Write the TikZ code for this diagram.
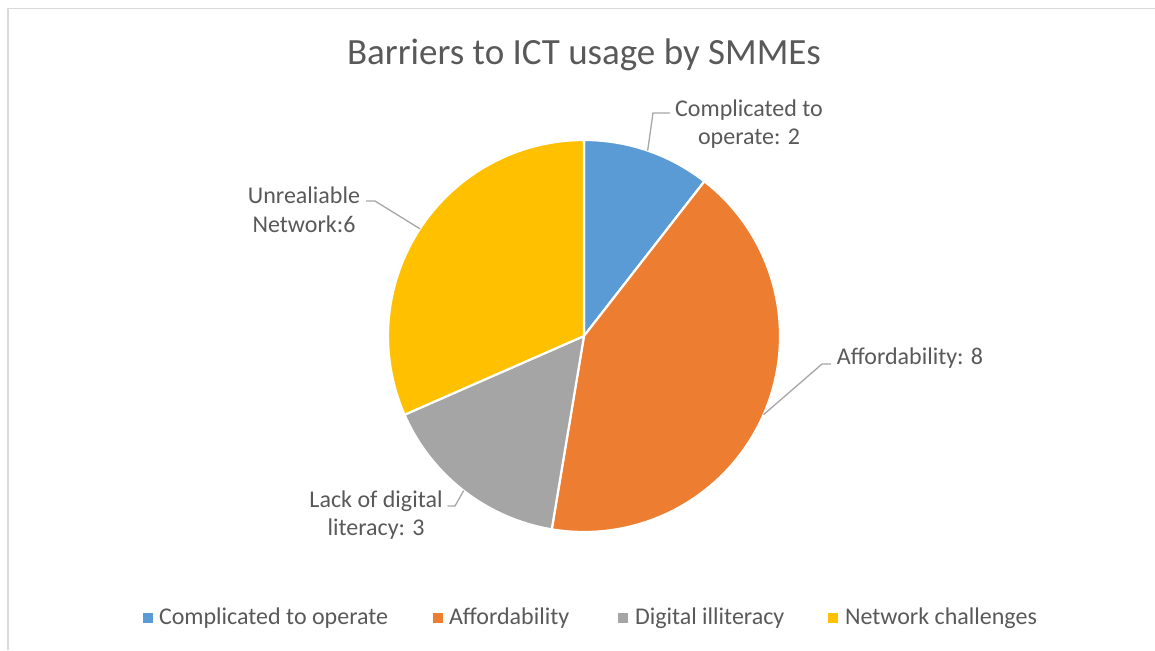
\documentclass[tikz,border=0pt]{standalone}
\usepackage{fontspec}
\setmainfont{Carlito}
\usetikzlibrary{positioning,calc}
\definecolor{cblue}{HTML}{5B9BD5}
\definecolor{corange}{HTML}{ED7D31}
\definecolor{cgrey}{HTML}{A5A5A5}
\definecolor{cyellow}{HTML}{FFC000}
\definecolor{ctext}{HTML}{595959}
\definecolor{cleader}{HTML}{A6A6A6}
\definecolor{cframe}{HTML}{D9D9D9}

\begin{document}
\begin{tikzpicture}
[x=1pt,y=1pt,
 every node/.style={inner sep=0pt,outer sep=0pt,text=ctext},
 slice/.style={draw=white,line width=2.2pt,line join=round},
 lbl/.style={align=center,font=\fontsize{24}{28.5}\selectfont},
 leader/.style={draw=cleader,line width=1.3pt},
 lgbox/.style={minimum size=10pt,draw=none},
 lgtxt/.style={font=\fontsize{24}{28}\selectfont,text height=17pt,text depth=5pt}]
\useasboundingbox (0,0) rectangle (1155,650);
\draw[cframe,line width=1.6pt] (8,0) -- (8,641.5) -- (1155,641.5);

\node[font=\fontsize{37}{44}\selectfont] (title) at (584,595) {Barriers to ICT usage by SMMEs};

\coordinate (c) at (584,314);
\filldraw[slice,fill=cblue]   (c) -- ++(90:196)      arc[start angle=90,      end angle=52.105,   radius=196] -- cycle;
\filldraw[slice,fill=corange] (c) -- ++(52.105:196)  arc[start angle=52.105,  end angle=-99.474,  radius=196] -- cycle;
\filldraw[slice,fill=cgrey]   (c) -- ++(-99.474:196) arc[start angle=-99.474, end angle=-156.316, radius=196] -- cycle;
\filldraw[slice,fill=cyellow] (c) -- ++(-156.316:196) arc[start angle=-156.316, end angle=-270,   radius=196] -- cycle;

% data labels with their leader lines
\node[lbl] (lblA) at (749,526) {Complicated to\\operate: 2};
\node[lbl] (lblB) at (910,292) {Affordability: 8};
\node[lbl] (lblC) at (376,135) {Lack of digital\\literacy: 3};
\node[lbl] (lblD) at (304,440) {Unrealiable\\Network:6};

\coordinate (pA) at ($(c)+(71.05:196)$);
\coordinate (pB) at ($(c)+(-23.68:196)$);
\coordinate (pC) at ($(c)+(-127.89:196)$);
\coordinate (pD) at ($(c)+(146.84:196)$);
\coordinate (kA) at (653,537);
\coordinate (kB) at (822,286);
\coordinate (kC) at (455,144);
\coordinate (kD) at (375,449);
\draw[leader] (pA) -- (kA) -- ([xshift=-5pt]kA -| lblA.west);
\draw[leader] (pB) -- (kB) -- ([xshift=-6pt]kB -| lblB.west);
\draw[leader] (pC) -- (kC) -- ([xshift=5pt]kC -| lblC.east);
\draw[leader] (pD) -- (kD) -- ([xshift=6pt]kD -| lblD.east);

% legend
\node[lgbox,fill=cblue]   (lgA) at (148,32) {};
\node[lgtxt] (lgAt) [right=6pt of lgA] {Complicated to operate};
\node[lgbox,fill=corange] (lgB) at (438,32) {};
\node[lgtxt] (lgBt) [right=6pt of lgB] {Affordability};
\node[lgbox,fill=cgrey]   (lgC) at (623,32) {};
\node[lgtxt] (lgCt) [right=7pt of lgC] {Digital illiteracy};
\node[lgbox,fill=cyellow] (lgD) at (833,32) {};
\node[lgtxt] (lgDt) [right=7pt of lgD] {Network challenges};
\end{tikzpicture}
\end{document}
